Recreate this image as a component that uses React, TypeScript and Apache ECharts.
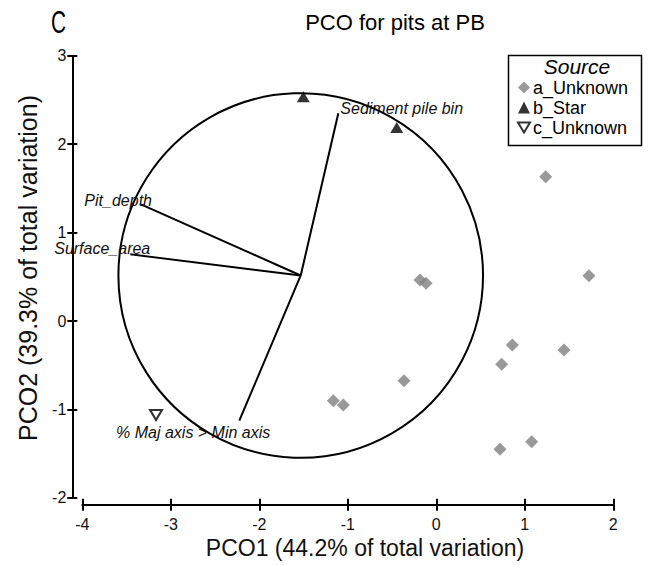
import React, { useEffect, useRef } from "react";
import * as echarts from "echarts";

// ---- data ----
const xTicks = [-4, -3, -2, -1, 0, 1, 2];
const yTicks = [-2, -1, 0, 1, 2, 3];

const seriesNames = ["a_Unknown", "b_Star", "c_Unknown"];

const aUnknown: [number, number][] = [
  [1.236, 1.632],
  [1.725, 0.512],
  [-0.184, 0.464],
  [-0.116, 0.426],
  [0.859, -0.271],
  [0.739, -0.49],
  [1.443, -0.328],
  [-0.365, -0.675],
  [-1.164, -0.902],
  [-1.051, -0.95],
  [1.078, -1.365],
  [0.72, -1.451],
];
const bStar: [number, number][] = [
  [-1.503, 2.537],
  [-0.447, 2.19],
];
const cUnknown: [number, number][] = [[-3.167, -1.063]];

const vectorOrigin: [number, number] = [-1.532, 0.515];
const circleRadius = 2.06;
const vectorNames = [
  "Sediment pile bin",
  "Pit_depth",
  "Surface_area",
  "% Maj axis > Min axis",
];
const vectorEnds: [number, number][] = [
  [-1.107, 2.35],
  [-3.337, 1.32],
  [-3.458, 0.754],
  [-2.226, -1.128],
];

// ---- layout of vector labels (pixel offsets from the vector end) ----
const labelLayout = [
  { dx: 2, dy: -5, align: "left" },
  { dx: 11, dy: -4, align: "right" },
  { dx: 20, dy: -6, align: "right" },
  { dx: 31, dy: 12, align: "right" },
];

const FONT = "'Liberation Sans', Arial, sans-serif";
const INV_TRI = "path://M0,0 L20,0 L10,17 Z";

export default function App() {
  const ref = useRef<HTMLDivElement>(null);

  useEffect(() => {
    if (!ref.current) return;
    const chart = echarts.init(ref.current, undefined, { renderer: "svg" });

    const axisCommon = {
      splitLine: { show: false },
    };

    const option: any = {
      animation: false,
      backgroundColor: "#ffffff",
      title: {
        text: "PCO for pits at PB",
        left: 395,
        top: 11,
        textAlign: "center",
        padding: 0,
        textStyle: { fontFamily: FONT, fontSize: 22, fontWeight: "normal", color: "#000" },
      },
      grid: { left: 82.3, right: 42.7, top: 55.8, bottom: 67.2, containLabel: false },
      xAxis: [
        {
          ...axisCommon,
          type: "value",
          min: xTicks[0],
          max: xTicks[xTicks.length - 1],
          interval: 1,
          position: "bottom",
          offset: 7,
          axisLine: { show: true, onZero: false, lineStyle: { color: "#000", width: 2 } },
          axisTick: { show: true, length: 6, lineStyle: { color: "#000", width: 2 } },
          axisLabel: { margin: 12, fontSize: 16, color: "#111", fontFamily: FONT },
        },
        {
          ...axisCommon,
          type: "value",
          min: xTicks[0],
          max: xTicks[xTicks.length - 1],
          interval: 1,
          position: "bottom",
          offset: 7,
          axisLine: { show: false, onZero: false },
          axisTick: { show: true, inside: true, length: 6, lineStyle: { color: "#000", width: 2 } },
          axisLabel: { show: false },
        },
      ],
      yAxis: [
        {
          ...axisCommon,
          type: "value",
          min: yTicks[0],
          max: yTicks[yTicks.length - 1],
          interval: 1,
          position: "left",
          offset: 10,
          axisLine: { show: true, onZero: false, lineStyle: { color: "#000", width: 2 } },
          axisTick: { show: true, length: 5, lineStyle: { color: "#000", width: 2 } },
          axisLabel: { margin: 6, fontSize: 16, color: "#111", fontFamily: FONT },
        },
        {
          ...axisCommon,
          type: "value",
          min: yTicks[0],
          max: yTicks[yTicks.length - 1],
          interval: 1,
          position: "left",
          offset: 10,
          axisLine: { show: false, onZero: false },
          axisTick: { show: true, inside: true, length: 5, lineStyle: { color: "#000", width: 2 } },
          axisLabel: { show: false },
        },
      ],
      legend: {
        orient: "vertical",
        left: 517,
        top: 78,
        padding: 0,
        itemGap: 1,
        itemWidth: 12,
        itemHeight: 12,
        data: seriesNames,
        textStyle: {
          fontSize: 18,
          lineHeight: 19,
          color: "#000",
          fontFamily: FONT,
          padding: [0, 0, 0, -2],
        },
      },
      graphic: [
        {
          type: "rect",
          shape: { x: 508.5, y: 55.5, width: 133, height: 90 },
          style: { fill: "#fff", stroke: "#000", lineWidth: 1.5 },
          z: -1,
          silent: true,
        },
        {
          type: "text",
          x: 577,
          y: 66.5,
          style: {
            text: "Source",
            fontFamily: FONT,
            fontSize: 21,
            lineHeight: 21,
            fontStyle: "italic",
            fill: "#000",
            align: "center",
            verticalAlign: "middle",
          },
        },
        {
          type: "text",
          x: 51,
          y: 22,
          scaleX: 0.65,
          style: {
            text: "C",
            fontFamily: FONT,
            fontSize: 32,
            fill: "#000",
            align: "left",
            verticalAlign: "middle",
          },
        },
        {
          type: "text",
          x: 365,
          y: 548,
          style: {
            text: "PCO1 (44.2% of total variation)",
            fontFamily: FONT,
            fontSize: 23,
            fill: "#111",
            align: "center",
            verticalAlign: "middle",
          },
        },
        {
          type: "text",
          x: 28,
          y: 268,
          rotation: Math.PI / 2,
          style: {
            text: "PCO2 (39.3% of total variation)",
            fontFamily: FONT,
            fontSize: 25,
            fill: "#111",
            align: "center",
            verticalAlign: "middle",
          },
        },
      ],
      series: [
        {
          type: "custom",
          name: "circle",
          silent: true,
          data: [[vectorOrigin[0], vectorOrigin[1]]],
          renderItem: (params: any, api: any) => {
            const c = api.coord([api.value(0), api.value(1)]);
            const s = api.size([circleRadius, circleRadius]);
            return {
              type: "circle",
              shape: { cx: c[0], cy: c[1], r: s[0] },
              style: { fill: "none", stroke: "#000", lineWidth: 2 },
            };
          },
          z: 1,
        },
        {
          type: "custom",
          name: "vectors",
          silent: true,
          data: vectorEnds.map((e, i) => [vectorOrigin[0], vectorOrigin[1], e[0], e[1], i]),
          renderItem: (params: any, api: any) => {
            const p0 = api.coord([api.value(0), api.value(1)]);
            const p1 = api.coord([api.value(2), api.value(3)]);
            const i = api.value(4);
            const lay = labelLayout[i];
            return {
              type: "group",
              children: [
                {
                  type: "line",
                  shape: { x1: p0[0], y1: p0[1], x2: p1[0], y2: p1[1] },
                  style: { stroke: "#000", lineWidth: 2 },
                },
                {
                  type: "text",
                  x: p1[0] + lay.dx,
                  y: p1[1] + lay.dy,
                  style: {
                    text: vectorNames[i],
                    fontFamily: FONT,
                    fontSize: 16,
                    fontStyle: "italic",
                    fill: "#111",
                    align: lay.align,
                    verticalAlign: "middle",
                  },
                },
              ],
            };
          },
          z: 2,
        },
        {
          type: "scatter",
          name: seriesNames[0],
          data: aUnknown,
          symbol: "diamond",
          symbolSize: 13,
          itemStyle: { color: "#808080" },
          z: 3,
        },
        {
          type: "scatter",
          name: seriesNames[1],
          data: bStar,
          symbol: "triangle",
          symbolSize: [13, 11],
          itemStyle: { color: "#000" },
          z: 3,
        },
        {
          type: "scatter",
          name: seriesNames[2],
          data: cUnknown,
          symbol: INV_TRI,
          symbolSize: [12, 10],
          itemStyle: { color: "#fff", borderColor: "#000", borderWidth: 2 },
          z: 3,
        },
      ],
    };

    chart.setOption(option);
    return () => chart.dispose();
  }, []);

  return (
    <div
      ref={ref}
      style={{ position: "fixed", left: 0, top: 0, width: 656, height: 565, background: "#fff" }}
    />
  );
}
